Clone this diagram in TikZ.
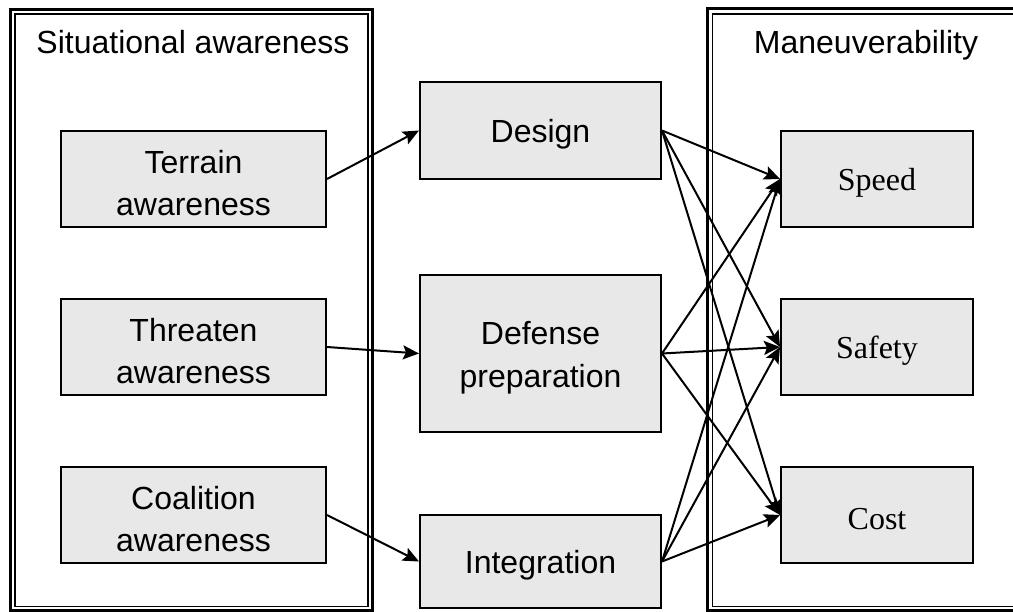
\documentclass[tikz,border=0pt]{standalone}
\usepackage{fontspec}
\setmainfont{Liberation Sans}
\newfontfamily\romanface{Liberation Serif}
\usetikzlibrary{arrows.meta}
\definecolor{boxgray}{HTML}{E8E8E8}

\begin{document}
\begin{tikzpicture}[x=1pt,y=-1pt,
  bigtext/.style={font=\fontsize{32pt}{42.5pt}\selectfont},
  box/.style={draw=black, line width=2pt, fill=boxgray, inner sep=0pt},
  boxtext/.style={bigtext, align=center, yshift=-4pt, inner sep=0pt},
  romantext/.style={boxtext, font=\fontsize{32pt}{42.5pt}\romanface},
  leftbox/.style={box, minimum width=265pt, minimum height=96pt},
  midbox/.style={box, minimum width=241pt},
  rightbox/.style={box, minimum width=192pt, minimum height=96pt},
  link/.style={line width=2pt, -{Stealth[length=16pt,width=14pt,inset=3pt]}},
  frameouter/.style={line width=3pt},
  frameinner/.style={line width=1.5pt},
]
\useasboundingbox (0,0) rectangle (1013,612);
\clip (0,0) rectangle (1013,612);

% group frames (double border)
\draw[frameouter] (10.5,9.5) rectangle (372.5,610.5);
\draw[frameinner] (15,14.2) rectangle (368,606.5);
\draw[frameouter] (707.7,9) rectangle (1020,610.5);
\draw[frameinner] (712.5,14.2) rectangle (1016,606.5);

\node[bigtext, anchor=base] (sa) at (193,53.3) {Situational awareness};
\node[bigtext, anchor=base] (mv) at (866,54) {Maneuverability};

% awareness components
\node[leftbox, label={[boxtext]center:Terrain\\awareness}] (terrain) at (193.5,179) {};
\node[leftbox, label={[boxtext]center:Threaten\\awareness}] (threat) at (193.5,347) {};
\node[leftbox, label={[boxtext]center:Coalition\\awareness}] (coal) at (193.5,515) {};

% intermediate capabilities
\node[midbox, minimum height=97pt, label={[boxtext]center:Design}] (design) at (540.5,130.5) {};
\node[midbox, minimum height=157pt, label={[boxtext]center:Defense\\preparation}] (defense) at (540.5,353.5) {};
\node[midbox, minimum height=93pt, label={[boxtext]center:Integration}] (integ) at (540.5,561.5) {};

% maneuverability measures
\node[rightbox, label={[romantext]center:Speed}] (speed) at (877,179) {};
\node[rightbox, label={[romantext]center:Safety}] (safety) at (877,347) {};
\node[rightbox, label={[romantext]center:Cost}] (cost) at (877,515) {};

\draw[link] (terrain.east) -- (design.west);
\draw[link] (threat.east) -- (defense.west);
\draw[link] (coal.east) -- (integ.west);

\foreach \src in {design,defense,integ}
  \foreach \dst in {speed,safety,cost}
    \draw[link] (\src.east) -- (\dst.west);
\end{tikzpicture}
\end{document}
